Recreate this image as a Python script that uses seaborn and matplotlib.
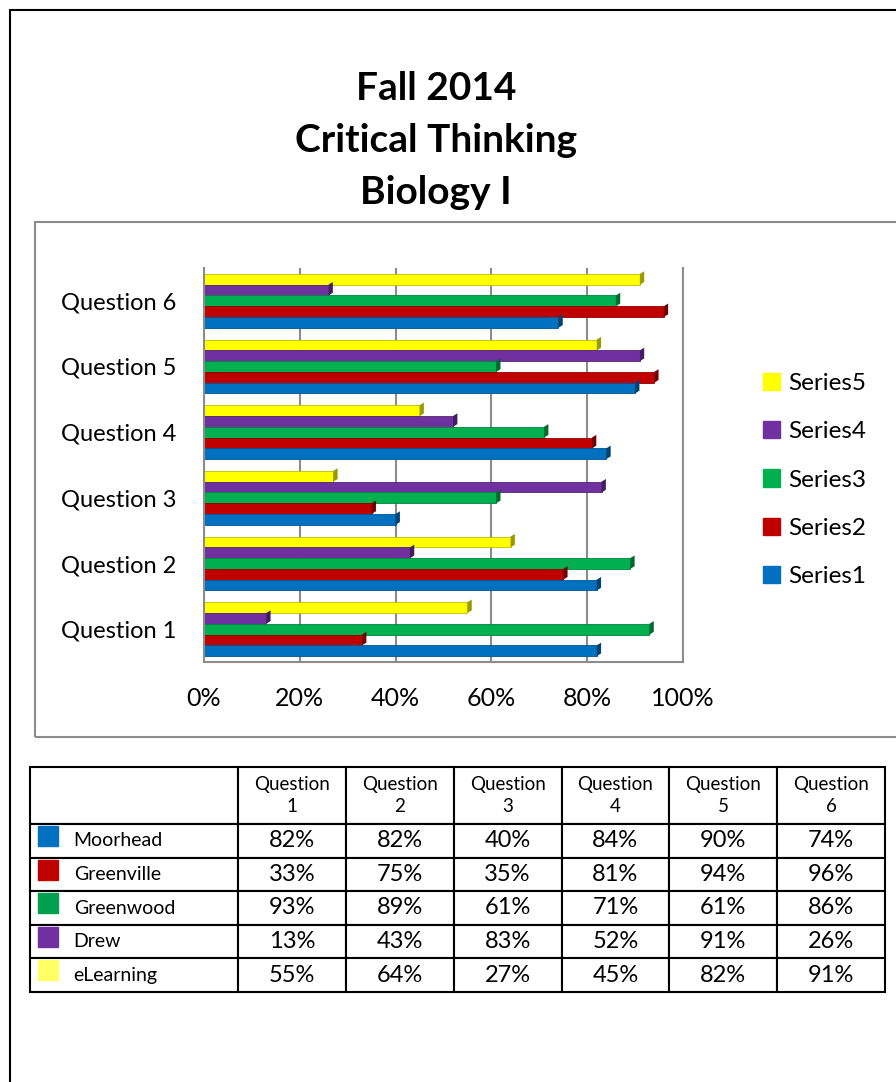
import matplotlib
matplotlib.use("Agg")
import matplotlib.pyplot as plt
import matplotlib.patches as mpatches
from matplotlib.ticker import PercentFormatter, FixedLocator
import numpy as np
import pandas as pd
import seaborn as sns

preguntas = ["Question 1", "Question 2", "Question 3", "Question 4", "Question 5", "Question 6"]
escuelas = ["Moorhead", "Greenville", "Greenwood", "Drew", "eLearning"]
series = ["Series1", "Series2", "Series3", "Series4", "Series5"]
moorhead = [82, 82, 40, 84, 90, 74]
greenville = [33, 75, 35, 81, 94, 96]
greenwood = [93, 89, 61, 71, 61, 86]
drew = [13, 43, 83, 52, 91, 26]
elearning = [55, 64, 27, 45, 82, 91]
colores = ["#0070C0", "#C00000", "#00B050", "#7030A0", "#FFFF00"]
colores_tabla = ["#0070C0", "#C00000", "#00A050", "#7030A0", "#FFFF66"]

valores = [moorhead, greenville, greenwood, drew, elearning]

sns.set_theme(style="white")
plt.rcParams['font.family'] = ['Lato', 'DejaVu Sans']
plt.rcParams['text.color'] = 'black'
plt.rcParams['xtick.color'] = 'black'
plt.rcParams['ytick.color'] = 'black'

filas = []
for s, vals in zip(series, valores):
    for q, v in zip(preguntas, vals):
        filas.append({"pregunta": q, "serie": s, "valor": v})
df = pd.DataFrame(filas)

fig = plt.figure(figsize=(8.96, 10.82), dpi=100)

# marcos
fig.add_artist(mpatches.Rectangle((10 / 896, -0.01), 1.0, 1 - 10 / 1082 + 0.01, transform=fig.transFigure,
                                  fill=False, edgecolor="black", linewidth=1.5))
fig.add_artist(mpatches.Rectangle((35 / 896, (1082 - 737) / 1082), 1.0, 515 / 1082, transform=fig.transFigure,
                                  fill=False, edgecolor="#8c8c8c", linewidth=1.5))

for texto, ypix in [("Fall 2014", 88), ("Critical Thinking", 140), ("Biology I", 192)]:
    fig.text(436 / 896, 1 - ypix / 1082, texto, ha="center", va="center", fontsize=28, fontweight="bold")

ax = fig.add_axes([204 / 896, (1082 - 662) / 1082, 479 / 896, 394 / 1082])
orden = preguntas[::-1]
orden_hue = series[::-1]
paleta = dict(zip(series, colores))
sns.barplot(data=df, y="pregunta", x="valor", hue="serie", order=orden, hue_order=orden_hue,
            palette=paleta, orient="h", width=0.82, saturation=1, ax=ax, legend=False)

# efecto 3D simple: borde mas oscuro y tapa al final de cada barra
for p in list(ax.patches):
    c = np.array(matplotlib.colors.to_rgb(p.get_facecolor()))
    p.set_edgecolor(c * 0.75)
    p.set_linewidth(0.6)
    x0, y0 = p.get_x(), p.get_y()
    w, h = p.get_width(), p.get_height()
    dx, dy = 0.9, h * 0.25
    tapa = mpatches.Polygon([(x0 + w, y0), (x0 + w + dx, y0 - dy), (x0 + w + dx, y0 + h - dy), (x0 + w, y0 + h)],
                            closed=True, facecolor=c * 0.6, edgecolor="none")
    ax.add_patch(tapa)

ax.set_xlim(0, 100)
ax.xaxis.set_major_formatter(PercentFormatter(100, decimals=0))
ax.set_xticks([0, 20, 40, 60, 80, 100])
ax.grid(axis="x", color="#8c8c8c", linewidth=1.5)
ax.set_axisbelow(True)
ax.set_xlabel("")
ax.set_ylabel("")
ax.spines["top"].set_visible(False)
for sp in ["left", "bottom", "right"]:
    ax.spines[sp].set_color("#8c8c8c")
    ax.spines[sp].set_linewidth(1.5)
ax.tick_params(axis="y", length=0, labelsize=17, pad=20)
ax.tick_params(axis="x", length=6, color="#8c8c8c", labelsize=18, pad=12)
ax.yaxis.set_minor_locator(FixedLocator(np.arange(-0.5, len(preguntas), 1.0)))
ax.tick_params(axis="y", which="minor", length=6, color="#8c8c8c", width=1.5)

handles = [mpatches.Patch(color=paleta[s], label=s) for s in orden_hue]
fig.legend(handles=handles, loc="center left", bbox_to_anchor=(741 / 896, 1 - 480 / 1082),
           frameon=False, fontsize=17.5, handlelength=0.7, handleheight=0.7,
           labelspacing=1.12, handletextpad=0.35)

# tabla
tax = fig.add_axes([30 / 896, (1082 - 992) / 1082, 855 / 896, 225 / 1082])
tax.axis("off")
encabezado = [""] + [q.replace(" ", "\n") for q in preguntas]
celdas = [encabezado]
for esc, vals in zip(escuelas, valores):
    celdas.append([esc] + [f"{v}%" for v in vals])
anchos = [208 / 855] + [107.8 / 855] * 6
tabla = tax.table(cellText=celdas, colWidths=anchos, cellLoc="center", bbox=[0, 0, 1, 1])
tabla.auto_set_font_size(False)
alto_enc = 57 / 225
alto_fila = (1 - alto_enc) / len(escuelas)
for (r, c), cell in tabla.get_celld().items():
    cell.set_linewidth(1.5)
    cell.set_edgecolor("black")
    if r == 0:
        cell.set_height(alto_enc)
        cell.get_text().set_fontsize(13.5)
        cell.get_text().set_linespacing(1.35)
    else:
        cell.set_height(alto_fila)
        if c == 0:
            cell.get_text().set_fontsize(14)
            cell.get_text().set_horizontalalignment("left")
            cell.PAD = 0.21
        else:
            cell.get_text().set_fontsize(17)

for i, col in enumerate(colores_tabla):
    y_top = 1 - alto_enc - i * alto_fila
    tax.add_patch(mpatches.Rectangle((8 / 855, y_top - 22 / 225), 20 / 855, 20 / 225,
                                     transform=tax.transAxes, color=col, clip_on=False))

fig.savefig("out.png", dpi=100)
